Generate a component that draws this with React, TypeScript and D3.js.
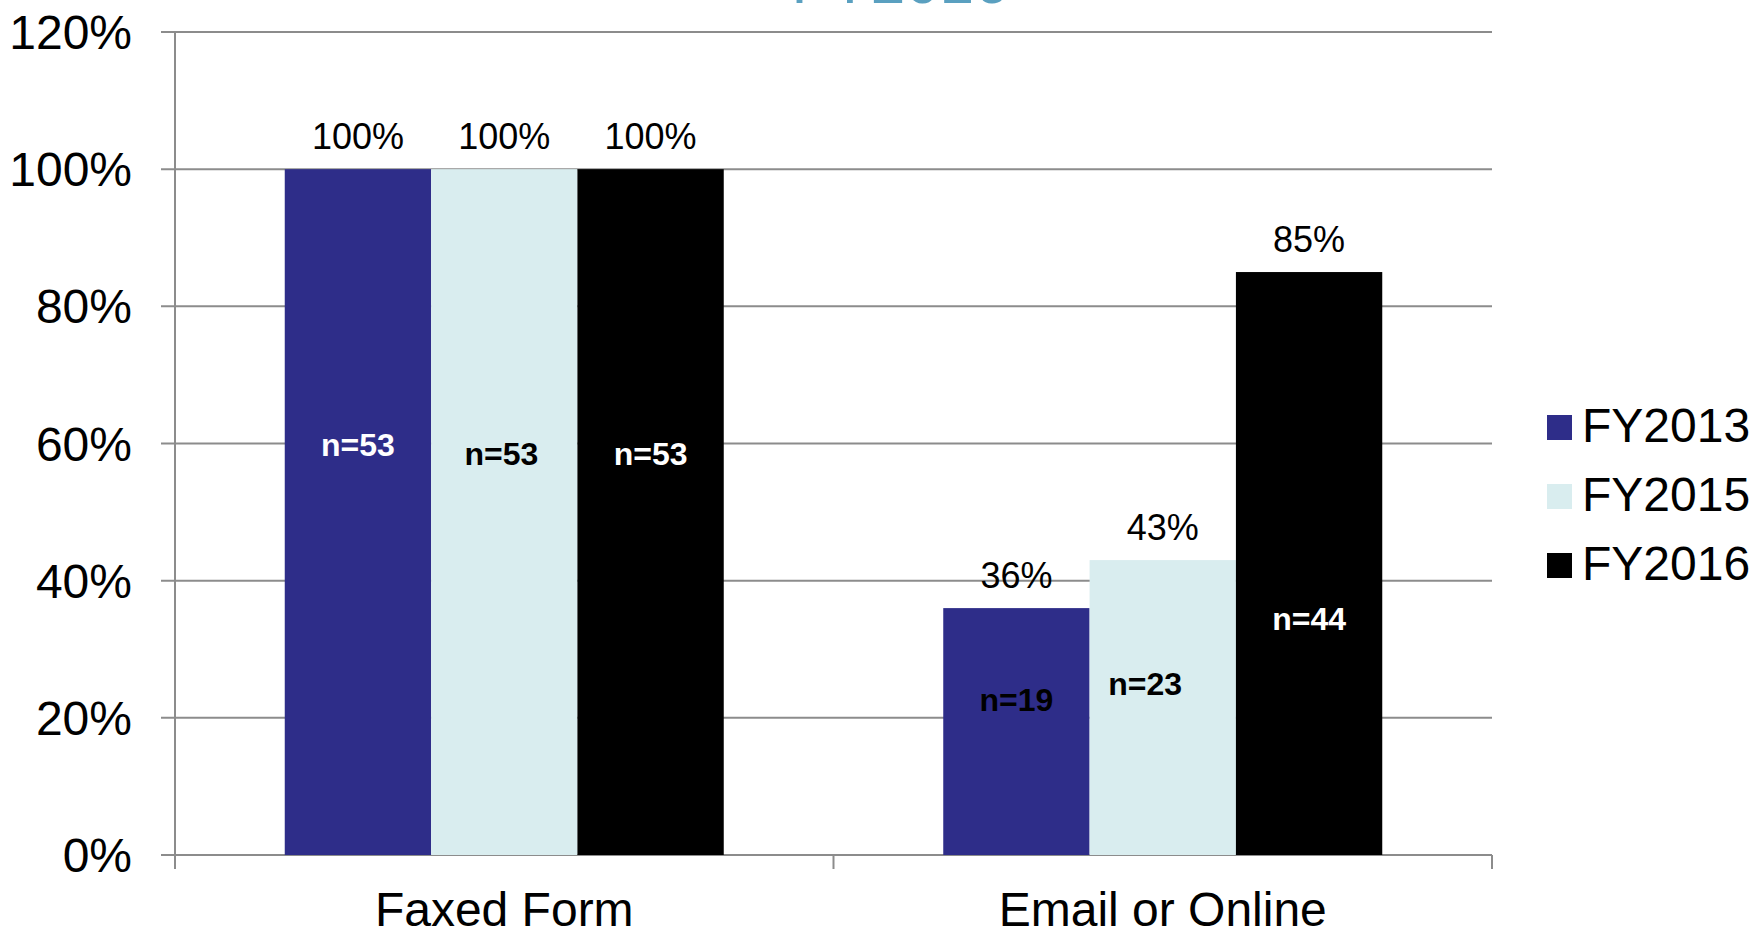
import * as d3 from "d3";
import React from "react";

const categories = ["Faxed Form", "Email or Online"];
const seriesNames = ["FY2013", "FY2015", "FY2016"];
const fy2013 = [1.0, 0.36];
const fy2015 = [1.0, 0.43];
const fy2016 = [1.0, 0.85];
const n2013 = [53, 19];
const n2015 = [53, 23];
const n2016 = [53, 44];
// level (in axis units) where the n= label sits inside each bar
const nLevel2013 = [0.598, 0.227];
const nLevel2015 = [0.585, 0.249];
const nLevel2016 = [0.585, 0.345];
const nShift2015 = [-0.02, -0.12];
const yTicks = [0, 0.2, 0.4, 0.6, 0.8, 1.0, 1.2];

const colors = ["#2e2d89", "#d9edef", "#000000"];
const nColors = [
  ["#ffffff", "#000000"],
  ["#000000", "#000000"],
  ["#ffffff", "#ffffff"],
];

const width = 1756;
const height = 932;
const left = 175;
const right = 1492;
const top = 32;
const bottom = 855;
const font = "'Liberation Sans', Arial, sans-serif";
const gridColor = "#8c8c8c";

export default function App() {
  const values = [fy2013, fy2015, fy2016];
  const counts = [n2013, n2015, n2016];
  const levels = [nLevel2013, nLevel2015, nLevel2016];
  const shifts = [[0, 0], nShift2015, [0, 0]];

  const x0 = d3.scaleBand<string>().domain(categories).range([left, right]);
  const x1 = d3
    .scaleBand<string>()
    .domain(seriesNames)
    .range([0, x0.bandwidth()])
    .paddingInner(0)
    .paddingOuter(0.75);
  const y = d3.scaleLinear().domain([0, 1.2]).range([bottom, top]);
  const pct = d3.format(".0%");
  const bw = x1.bandwidth();

  return (
    <svg width={width} height={height} style={{ position: "absolute", left: 0, top: 0, background: "#fff" }} fontFamily={font}>
      {/* title, mostly cut off at the top */}
      <text x={900} y={3} textAnchor="middle" fontSize={62} fill="#5aa0c0">
        FY2016
      </text>

      {/* gridlines + y ticks */}
      {yTicks.map((t) => (
        <g key={t}>
          <line x1={left - 14} x2={right} y1={y(t)} y2={y(t)} stroke={gridColor} strokeWidth={2} />
          <text x={132} y={y(t) + 17} textAnchor="end" fontSize={48} fill="#000">
            {pct(t)}
          </text>
        </g>
      ))}
      <line x1={left} x2={left} y1={top} y2={bottom + 14} stroke={gridColor} strokeWidth={2} />
      {categories.map((c) => (
        <line key={c} x1={x0(c)! + x0.bandwidth()} x2={x0(c)! + x0.bandwidth()} y1={bottom} y2={bottom + 14} stroke={gridColor} strokeWidth={2} />
      ))}

      {/* bars */}
      {seriesNames.map((s, si) =>
        categories.map((c, ci) => {
          const v = values[si][ci];
          const bx = x0(c)! + x1(s)!;
          return (
            <g key={s + c}>
              <rect x={bx} y={y(v)} width={bw} height={bottom - y(v)} fill={colors[si]} />
              <text x={bx + bw / 2} y={y(v) - 20} textAnchor="middle" fontSize={36} fill="#000">
                {pct(v)}
              </text>
              <text
                x={bx + bw / 2 + shifts[si][ci] * bw}
                y={y(levels[si][ci])}
                dy="0.35em"
                textAnchor="middle"
                fontSize={32}
                fontWeight="bold"
                fill={nColors[si][ci]}
              >
                n={counts[si][ci]}
              </text>
            </g>
          );
        })
      )}

      {/* category labels */}
      {categories.map((c) => (
        <text key={c} x={x0(c)! + x0.bandwidth() / 2} y={926} textAnchor="middle" fontSize={48} fill="#000">
          {c}
        </text>
      ))}

      {/* legend */}
      {seriesNames.map((s, i) => (
        <g key={s} transform={`translate(1547, ${415 + i * 69})`}>
          <rect width={25} height={25} fill={colors[i]} />
          <text x={35} y={27} fontSize={48} fill="#000">
            {s}
          </text>
        </g>
      ))}
    </svg>
  );
}
